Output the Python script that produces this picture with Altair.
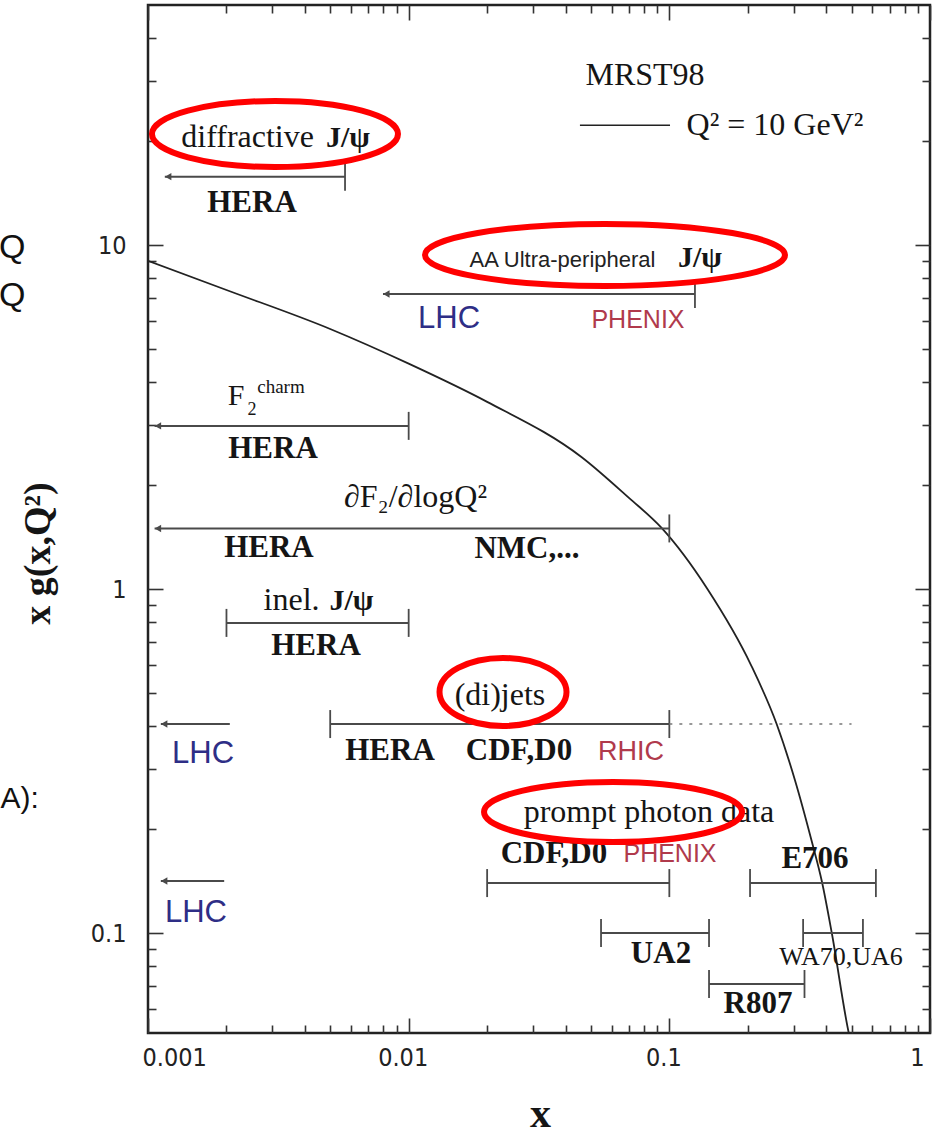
import altair as alt
import pandas as pd

# ---------------- data ----------------
# MRST98 gluon: x g(x, Q^2 = 10 GeV^2)
curve_x = [0.001, 0.002, 0.005, 0.01, 0.02, 0.046, 0.07, 0.093, 0.14, 0.206,
           0.258, 0.303, 0.351, 0.385, 0.42, 0.488, 0.52]
curve_y = [9.0, 7.4, 5.7, 4.52, 3.5, 2.42, 1.84, 1.51, 1.0, 0.60,
           0.405, 0.279, 0.186, 0.141, 0.10, 0.0512, 0.042]

# kinematic x-ranges of the measurements
rng_name = ["diffractive J/psi HERA", "AA UPC J/psi", "F2 charm HERA", "dF2/dlogQ2",
            "inel J/psi HERA", "LHC jets", "(di)jets", "LHC photons",
            "CDF,D0 photons", "E706", "UA2", "WA70,UA6", "R807"]
rng_lo = [0.00116, 0.00797, 0.00106, 0.00106, 0.002, 0.00112, 0.005, 0.00112,
          0.02, 0.204, 0.0547, 0.326, 0.142]
rng_hi = [0.0057, 0.1254, 0.01, 0.1, 0.01, 0.00206, 0.1, 0.00196,
          0.1, 0.62, 0.142, 0.553, 0.33]
rng_y = [15.8, 7.2, 2.98, 1.50, 0.797, 0.405, 0.405, 0.1416,
         0.1397, 0.1397, 0.1, 0.1, 0.0711]
rng_left = ["arrow", "arrow", "arrow", "arrow", "bar", "arrow", "bar", "arrow",
            "bar", "bar", "bar", "bar", "bar"]
rng_right = ["bar", "bar", "bar", "bar", "bar", "none", "bar", "none",
             "bar", "bar", "bar", "bar", "bar"]

# dotted continuation of the (di)jets range
dot_lo, dot_hi, dot_y = [0.1], [0.5], [0.405]

# legend sample line
leg_lo, leg_hi, leg_y = [0.0454], [0.1006], [22.3]

# labels (data coordinates)
bold_text = ["HERA", "HERA", "HERA", "NMC,...", "HERA", "HERA", "CDF,D0",
             "CDF,D0", "E706", "UA2", "R807"]
bold_x = [0.002506, 0.003017, 0.002911, 0.02844, 0.00441, 0.008483, 0.0265,
          0.03609, 0.362, 0.0929, 0.2189]
bold_y = [12.47, 2.403, 1.239, 1.231, 0.6428, 0.3183, 0.3183,
          0.1598, 0.1545, 0.0818, 0.05855]

psi_text = ["J/ψ", "J/ψ", "J/ψ"]
psi_x = [0.00585, 0.1311, 0.006036]
psi_y = [19.27, 8.63, 0.8689]

reg_text = ["diffractive", "inel.", "(di)jets", "prompt photon data", "MRST98",
            "Q² = 10 GeV²", "∂F₂/∂logQ²"]
reg_x = [0.00241, 0.003553, 0.0224, 0.08356, 0.08065, 0.2542, 0.01062]
reg_y = [19.27, 0.8689, 0.4601, 0.2102, 29.18, 20.88, 1.731]

f2_text, f2_x, f2_y = ["F"], [0.002176], [3.426]
f2sub_text, f2sub_x, f2sub_y = ["2"], [0.002506], [3.204]
f2sup_text, f2sup_x, f2sup_y = ["charm"], [0.003237], [3.713]
small_text, small_x, small_y = ["WA70,UA6"], [0.4555], [0.0807]

sans_text, sans_x, sans_y = ["AA Ultra-peripheral"], [0.03892], [8.63]
blue_text = ["LHC", "LHC", "LHC"]
blue_x = [0.01428, 0.001626, 0.001528]
blue_y = [5.737, 0.312, 0.1076]
red_text = ["PHENIX", "RHIC", "PHENIX"]
red_x = [0.07581, 0.07129, 0.1006]
red_y = [5.737, 0.3183, 0.1609]

# fragments of neighbouring slide text visible at the left edge
edge_text = ["Q", "Q", "A):"]
edge_x = [0.000268, 0.000268, 0.000272]
edge_y = [9.17, 6.65, 0.2309]

# highlighted labels (red ellipses), centres in data coordinates
ell_x = [0.00307, 0.05665, 0.02301, 0.06081]
ell_y = [21.02, 9.353, 0.502, 0.2247]

# axis labels
x_labels = [0.001, 0.01, 0.1, 1]
y_labels = [0.1, 1, 10]

# ---------------- styles ----------------
W, H = 782, 1028
XS = alt.Scale(type="log", domain=[0.001, 1], nice=False)
YS = alt.Scale(type="log", domain=[0.05121, 49.85], nice=False)
SERIF = "Liberation Serif, DejaVu Serif, serif"
SANS = "Liberation Sans, Arial, sans-serif"
NARROW = "Liberation Sans Narrow, DejaVu Sans Condensed, sans-serif"
GREY = "#4a4a4a"
INK = "#151515"
ELL_SHAPE = [(246, 66), (360, 62), (127, 68), (258, 60)]

minor_x = [m * 10 ** e for e in (-3, -2, -1) for m in range(1, 10)] + [1]
minor_y = [m * 10 ** e for e in (-2, -1, 0, 1) for m in range(1, 10)
           if 0.0512 <= m * 10 ** e <= 49.85]

major_test = "abs(log(datum.value)/LN10 - round(log(datum.value)/LN10)) < 0.001"


def frame_axis(orient, offset, values):
    return alt.Axis(orient=orient, offset=offset, values=values, labels=False,
                    title=None, domain=False, grid=False, ticks=True,
                    tickColor="#333333", tickWidth=1.6,
                    tickSize={"condition": {"test": major_test, "value": 15},
                              "value": 8})


def X(field="x", axis=None):
    return alt.X(f"{field}:Q", scale=XS, axis=axis)


def Y(field="y", axis=None):
    return alt.Y(f"{field}:Q", scale=YS, axis=axis)


def text_layer(texts, xs, ys, font, size, weight="normal", color=INK, align="center"):
    df = pd.DataFrame({"t": texts, "x": xs, "y": ys})
    return alt.Chart(df).mark_text(
        font=font, fontSize=size, fontWeight=weight, color=color,
        align=align, baseline="alphabetic"
    ).encode(x=X(), y=Y(), text="t:N")


def ellipse_path(w, h):
    r = h / w
    k = 0.5523
    return (f"M -1 0 C -1 {-k*r:.4f} {-k:.4f} {-r:.4f} 0 {-r:.4f} "
            f"C {k:.4f} {-r:.4f} 1 {-k*r:.4f} 1 0 "
            f"C 1 {k*r:.4f} {k:.4f} {r:.4f} 0 {r:.4f} "
            f"C {-k:.4f} {r:.4f} -1 {k*r:.4f} -1 0 Z")


# ---------------- tables ----------------
curve_df = pd.DataFrame({"x": curve_x, "y": curve_y})
rng_df = pd.DataFrame({"name": rng_name, "lo": rng_lo, "hi": rng_hi, "y": rng_y,
                       "left": rng_left, "right": rng_right})
end_rows = []
for lo, hi, y, l, r in zip(rng_lo, rng_hi, rng_y, rng_left, rng_right):
    if l == "bar":
        end_rows.append({"x": lo, "y": y})
    if r == "bar":
        end_rows.append({"x": hi, "y": y})
ends_df = pd.DataFrame(end_rows)
arrow_df = pd.DataFrame([{"x": lo * 1.03, "y": y}
                         for lo, y, l in zip(rng_lo, rng_y, rng_left) if l == "arrow"])
dot_df = pd.DataFrame({"lo": dot_lo, "hi": dot_hi, "y": dot_y})
leg_df = pd.DataFrame({"lo": leg_lo, "hi": leg_hi, "y": leg_y})

# ---------------- layers ----------------
x_main_axis = alt.Axis(orient="bottom", values=x_labels, format="~g", ticks=False,
                       tickSize=0, domain=False, grid=False, labelFont=NARROW,
                       labelFontSize=25, labelColor="#222222", labelPadding=12,
                       labelOffset=-6,
                       title="x", titleFont=SERIF, titleFontSize=42,
                       titleFontWeight="bold", titleColor=INK, titleX=392,
                       titleY=93, titleBaseline="alphabetic", titleAlign="center")
y_main_axis = alt.Axis(orient="left", values=y_labels, format="~g", ticks=False,
                       tickSize=0, domain=False, grid=False, labelFont=NARROW,
                       labelFontSize=25, labelColor="#222222", labelPadding=22,
                       title="x g(x,Q²)", titleFont=SERIF, titleFontSize=38,
                       titleFontWeight="bold", titleColor=INK, titleX=-110,
                       titleY=548, titleAngle=270, titleAlign="center",
                       titleBaseline="middle")

curve = alt.Chart(curve_df).mark_line(color="#222222", strokeWidth=1.8, clip=True,
                                      interpolate="monotone").encode(
    x=X(axis=x_main_axis), y=Y(axis=y_main_axis))

ranges = alt.Chart(rng_df).mark_rule(color=GREY, strokeWidth=2).encode(
    x=X("lo", axis=frame_axis("top", -H, minor_x)), x2="hi:Q",
    y=Y(axis=frame_axis("right", -W, minor_y)))

ends = alt.Chart(ends_df).mark_tick(orient="vertical", size=28, thickness=1.8,
                                    color=GREY, opacity=1).encode(
    x=X(axis=frame_axis("bottom", -H, minor_x)),
    y=Y(axis=frame_axis("left", -W, minor_y)))

arrows = alt.Chart(arrow_df).mark_point(shape="triangle-left", filled=True, size=55,
                                        color=GREY, opacity=1).encode(x=X(), y=Y())

dotted = alt.Chart(dot_df).mark_rule(color="#777777", strokeWidth=1.6,
                                     strokeDash=[3, 7]).encode(
    x=X("lo"), x2="hi:Q", y=Y())

legend_line = alt.Chart(leg_df).mark_rule(color="#222222", strokeWidth=1.5).encode(
    x=X("lo"), x2="hi:Q", y=Y())

texts = [
    text_layer(bold_text, bold_x, bold_y, SERIF, 31, "bold"),
    text_layer(psi_text, psi_x, psi_y, SERIF, 30, "bold"),
    text_layer(reg_text, reg_x, reg_y, SERIF, 32),
    text_layer(f2_text, f2_x, f2_y, SERIF, 30),
    text_layer(f2sub_text, f2sub_x, f2sub_y, SERIF, 18),
    text_layer(f2sup_text, f2sup_x, f2sup_y, SERIF, 19),
    text_layer(small_text, small_x, small_y, SERIF, 26),
    text_layer(sans_text, sans_x, sans_y, SANS, 22, color="#222222"),
    text_layer(blue_text, blue_x, blue_y, SANS, 31, color="#2e2e86"),
    text_layer(red_text[:1] + red_text[2:], red_x[:1] + red_x[2:],
               red_y[:1] + red_y[2:], SANS, 25, color="#b03a4c"),
    text_layer(red_text[1:2], red_x[1:2], red_y[1:2], SANS, 27, color="#b03a4c"),
    text_layer(edge_text[:2], edge_x[:2], edge_y[:2], SANS, 34, color="#111111",
               align="left"),
    text_layer(edge_text[2:], edge_x[2:], edge_y[2:], SANS, 30, color="#111111",
               align="left"),
]

ellipses = []
for (ex, ey, (w, h)) in zip(ell_x, ell_y, ELL_SHAPE):
    df = pd.DataFrame({"x": [ex], "y": [ey]})
    ellipses.append(
        alt.Chart(df).mark_point(shape=ellipse_path(w, h), size=w * w, filled=False,
                                 stroke="#ff0000", strokeWidth=6, opacity=1).encode(
            x=X(), y=Y()))

chart = alt.layer(curve, ranges, ends, arrows, dotted, legend_line, *texts, *ellipses
                  ).resolve_axis(x="independent", y="independent").properties(
    width=W, height=H,
    padding={"left": 148, "top": 5, "right": 2, "bottom": 104},
    autosize=alt.AutoSizeParams(type="none"),
    background="white",
).configure_view(stroke="#222222", strokeWidth=2.5)

chart.save("out.html", embed_options={"renderer": "svg", "actions": False})
